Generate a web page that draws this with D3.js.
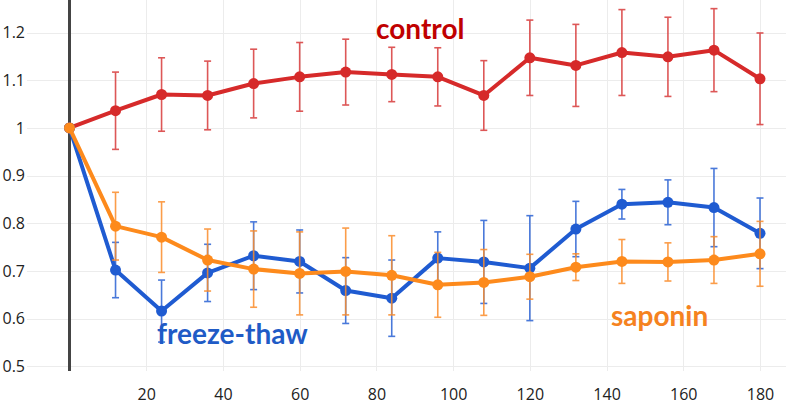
<!DOCTYPE html>
<html><head><meta charset="utf-8">
<script src="https://cdn.jsdelivr.net/npm/d3@7/dist/d3.min.js"></script>
<style>
html,body{margin:0;padding:0;background:#fff;}
svg{display:block;}
</style></head>
<body><svg id="chart" width="786" height="405"></svg>
<script>
const times = [0,12,24,36,48,60,72,84,96,108,120,132,144,156,168,180];
const control = [1, 1.036, 1.070, 1.068, 1.093, 1.107, 1.117, 1.112, 1.107, 1.068, 1.147, 1.131, 1.158, 1.149, 1.163, 1.103];
const controlErr = [0, 0.081, 0.077, 0.072, 0.072, 0.072, 0.069, 0.057, 0.061, 0.073, 0.079, 0.086, 0.090, 0.083, 0.087, 0.096];
const freezeThaw = [1, 0.702, 0.616, 0.696, 0.732, 0.720, 0.659, 0.643, 0.727, 0.719, 0.706, 0.788, 0.840, 0.844, 0.833, 0.779];
const freezeThawErr = [0, 0.058, 0.065, 0.060, 0.071, 0.066, 0.069, 0.080, 0.055, 0.087, 0.110, 0.058, 0.031, 0.047, 0.082, 0.074];
const saponin = [1, 0.794, 0.771, 0.723, 0.704, 0.695, 0.699, 0.691, 0.671, 0.676, 0.688, 0.708, 0.720, 0.719, 0.723, 0.736];
const saponinErr = [0, 0.071, 0.074, 0.065, 0.080, 0.087, 0.091, 0.083, 0.068, 0.069, 0.047, 0.028, 0.046, 0.040, 0.049, 0.068];
const xTicks = [20,40,60,80,100,120,140,160,180];
const yTicks = [0.5,0.6,0.7,0.8,0.9,1,1.1,1.2];
const seriesNames = ["control","freeze-thaw","saponin"];

const svg = d3.select("#chart");
const x = d3.scaleLinear().domain([0,180]).range([69.5,760]);
const y = d3.scaleLinear().domain([0.5,1.2]).range([366.4,32.5]);

// grid
const grid = svg.append("g");
grid.selectAll("line.h").data(yTicks).join("line")
  .attr("x1",27).attr("x2",786)
  .attr("y1",d=>Math.round(y(d))+0.5).attr("y2",d=>Math.round(y(d))+0.5)
  .attr("stroke","#ececec").attr("stroke-width",1);
grid.selectAll("line.v").data(xTicks).join("line")
  .attr("y1",0).attr("y2",371)
  .attr("x1",d=>Math.round(x(d))+0.5).attr("x2",d=>Math.round(x(d))+0.5)
  .attr("stroke","#ececec").attr("stroke-width",1);

// axes labels
const yAxis = d3.axisLeft(y).tickValues(yTicks).tickSize(0).tickPadding(0)
  .tickFormat(d=>String(+d.toFixed(1)));
const gy = svg.append("g").attr("transform","translate(25,0)").call(yAxis);
gy.select(".domain").remove();
gy.selectAll("text").attr("font-family","'Open Sans', sans-serif").attr("font-size",16).attr("fill","#222");

const xAxis = d3.axisBottom(x).tickValues(xTicks).tickSize(0).tickPadding(0);
const gx = svg.append("g").attr("transform","translate(0,389)").call(xAxis);
gx.select(".domain").remove();
gx.selectAll("text").attr("font-family","'Open Sans', sans-serif").attr("font-size",16).attr("fill","#222");

// zero line
svg.append("line").attr("x1",x(0)).attr("x2",x(0)).attr("y1",0).attr("y2",371)
  .attr("stroke","#444").attr("stroke-width",3);

const series = [
  {name:seriesNames[0], vals:control, errs:controlErr, color:"#d62a2a", bar:"#d83a3a"},
  {name:seriesNames[1], vals:freezeThaw, errs:freezeThawErr, color:"#1f5bd1", bar:"#2a62d4"},
  {name:seriesNames[2], vals:saponin, errs:saponinErr, color:"#fd8a1c", bar:"#fb8c2a"}
];

const line = d3.line().x(d=>x(d.t)).y(d=>y(d.v));
series.forEach(s=>{
  const pts = times.map((t,i)=>({t, v:s.vals[i], e:s.errs[i]}));
  const g = svg.append("g");
  const eb = g.append("g").attr("stroke",s.bar).attr("stroke-width",1.6).attr("opacity",0.85);
  pts.filter(p=>p.e>0).forEach(p=>{
    const cx = x(p.t);
    eb.append("line").attr("x1",cx).attr("x2",cx).attr("y1",y(p.v+p.e)).attr("y2",y(p.v-p.e));
    eb.append("line").attr("x1",cx-3.5).attr("x2",cx+3.5).attr("y1",y(p.v+p.e)).attr("y2",y(p.v+p.e));
    eb.append("line").attr("x1",cx-3.5).attr("x2",cx+3.5).attr("y1",y(p.v-p.e)).attr("y2",y(p.v-p.e));
  });
  g.append("path").datum(pts).attr("d",line).attr("fill","none")
    .attr("stroke",s.color).attr("stroke-width",4).attr("stroke-linejoin","round");
  g.selectAll("circle").data(pts).join("circle")
    .attr("cx",d=>x(d.t)).attr("cy",d=>y(d.v)).attr("r",5.5).attr("fill",s.color);
});

// labels
const lab = svg.append("g").attr("font-family","Lato, 'Open Sans', sans-serif").attr("font-weight","bold").attr("font-size",28);
lab.append("text").attr("x",376).attr("y",39).attr("fill","#c00000").text("control");
lab.append("text").attr("x",157).attr("y",344).attr("fill","#1f5bc6").text("freeze-thaw");
lab.append("text").attr("x",611).attr("y",326).attr("fill","#f58220").text("saponin");
</script></body></html>
